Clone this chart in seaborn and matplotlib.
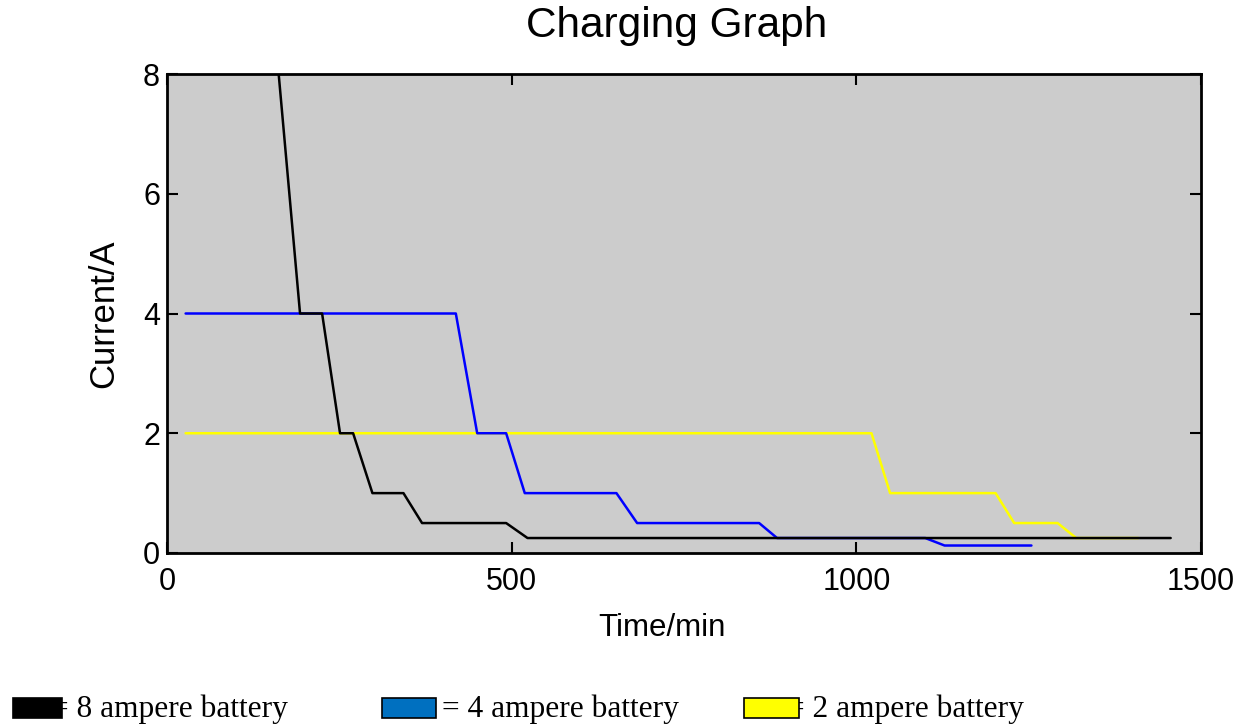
import matplotlib
matplotlib.use("Agg")
import matplotlib.pyplot as plt
from matplotlib.patches import Rectangle
import pandas as pd
import seaborn as sns

# Charging current profiles (time in minutes, current in amperes)
time_8a = [162, 193, 225, 251, 270, 298, 343, 370, 492, 523, 1456]
current_8a = [8, 4, 4, 2, 2, 1, 1, 0.5, 0.5, 0.25, 0.25]

time_4a = [27, 419, 450, 492, 519, 652, 682, 859, 885, 1100, 1128, 1254]
current_4a = [4, 4, 2, 2, 1, 1, 0.5, 0.5, 0.25, 0.25, 0.125, 0.125]

time_2a = [27, 1022, 1049, 1202, 1229, 1292, 1319, 1409]
current_2a = [2, 2, 1, 1, 0.5, 0.5, 0.25, 0.25]

series_names = ["2 ampere battery", "4 ampere battery", "8 ampere battery"]
series_colors = ["#ffff00", "#0000ff", "#000000"]
legend_names = ["8 ampere battery", "4 ampere battery", "2 ampere battery"]
legend_colors = ["#000000", "#0070c0", "#ffff00"]

x_ticks = [0, 500, 1000, 1500]
y_ticks = [0, 2, 4, 6, 8]

frames = []
for name, t, c in zip(series_names,
                      [time_2a, time_4a, time_8a],
                      [current_2a, current_4a, current_8a]):
    frames.append(pd.DataFrame({"Time": t, "Current": c, "Battery": name}))
df = pd.concat(frames, ignore_index=True)

sns.set_style("ticks")
plt.rcParams["font.family"] = ["Liberation Sans", "DejaVu Sans"]

W, H = 1249, 724
fig = plt.figure(figsize=(W / 100, H / 100), dpi=100)
ax = fig.add_axes([167 / W, 1 - 553 / H, (1201 - 167) / W, (553 - 74) / H])
ax.set_facecolor("#cccccc")

sns.lineplot(data=df, x="Time", y="Current", hue="Battery",
             hue_order=series_names, palette=series_colors,
             sort=False, estimator=None, linewidth=1.8, legend=False, ax=ax)

ax.set_xlim(0, 1500)
ax.set_ylim(0, 8)
ax.set_xticks(x_ticks)
ax.set_yticks(y_ticks)
ax.set_xticklabels([str(v) for v in x_ticks])
ax.set_yticklabels([str(v) for v in y_ticks])

for side in ["top", "right", "bottom", "left"]:
    ax.spines[side].set_visible(True)
    ax.spines[side].set_color("black")
    ax.spines[side].set_linewidth(2)

ax.tick_params(axis="both", direction="in", length=8, width=1.5,
               top=True, right=True, colors="black", labelsize=22)
ax.tick_params(axis="x", pad=10)
ax.tick_params(axis="y", pad=5)

ax.set_xlabel("Time/min", fontsize=22.5, color="black")
ax.xaxis.set_label_coords(0.479, -0.125)
ax.set_ylabel("Current/A", fontsize=25, color="black")
ax.yaxis.set_label_coords(-0.045, 0.5)

ax.set_title("Charging Graph", fontsize=30.5, color="black",
             x=0.493, y=1.077, pad=0)

# Legend row along the bottom edge: coloured boxes followed by serif labels
box_left = [13, 382, 744]
box_right = [62, 436, 799]
text_left = [51, 442, 787]
box_top, box_bottom = 698, 718
text_baseline = 717
for name, color, bl, br, tl in zip(legend_names, legend_colors,
                                   box_left, box_right, text_left):
    fig.text(tl / W, 1 - text_baseline / H, "= " + name,
             fontsize=22.6, family=["Liberation Serif", "DejaVu Serif"],
             color="black", ha="left", va="baseline", zorder=3)
    rect = Rectangle((bl / W, 1 - box_bottom / H), (br - bl) / W,
                     (box_bottom - box_top) / H, transform=fig.transFigure,
                     facecolor=color, edgecolor="black", linewidth=1.2,
                     zorder=5)
    fig.add_artist(rect)

fig.savefig("out.png", dpi=100)
